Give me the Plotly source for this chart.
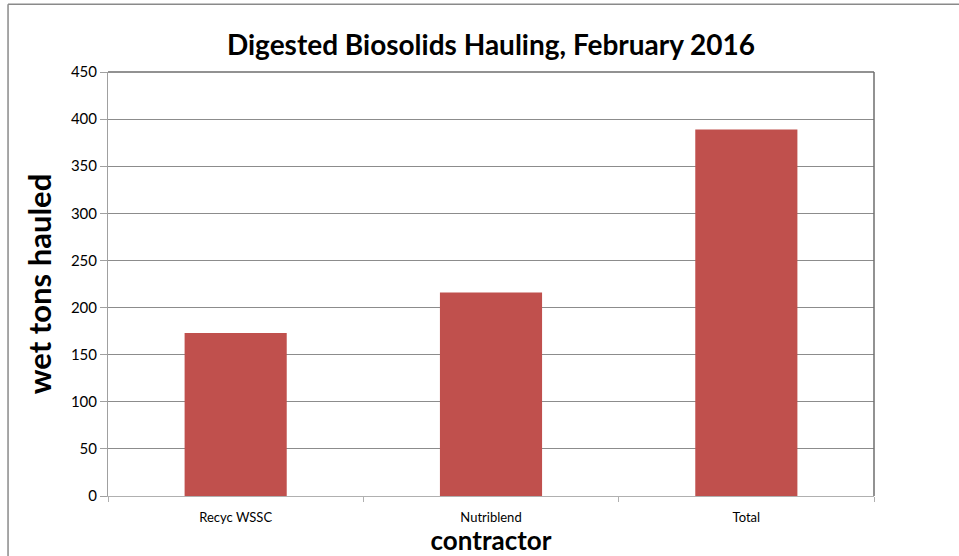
import plotly.graph_objects as go

# datos
contratistas = ["Recyc WSSC", "Nutriblend", "Total"]
toneladas = [173, 216, 389]
marcas_y = [0, 50, 100, 150, 200, 250, 300, 350, 400, 450]

FUENTE = "Lato, 'Open Sans', sans-serif"
ROJO = "#C0504D"

fig = go.Figure(go.Bar(
    x=contratistas,
    y=toneladas,
    marker_color=ROJO,
    marker_line_width=0,
    width=0.4,
))

fig.update_layout(
    width=959,
    height=556,
    title=dict(
        text="<b>Digested Biosolids Hauling, February 2016</b>",
        x=0.5, xanchor="center", xref="paper",
        y=0.919, yanchor="middle",
        font=dict(family=FUENTE, size=28, color="#000000"),
    ),
    plot_bgcolor="white",
    paper_bgcolor="white",
    showlegend=False,
    margin=dict(l=108, r=85, t=72, b=60),
    xaxis=dict(
        title=dict(text="<b>contractor</b>", font=dict(family=FUENTE, size=26, color="#000000"), standoff=0),
        tickfont=dict(family=FUENTE, size=13, color="#000000"),
        ticklabelstandoff=9,
        showline=True, linecolor="#b0b0b0", linewidth=1,
        ticks="outside", tickson="boundaries", ticklen=5, tickcolor="#b0b0b0",
        showgrid=False,
    ),
    yaxis=dict(
        title=dict(text="<b>wet tons hauled</b>", font=dict(family=FUENTE, size=31, color="#000000"), standoff=10),
        tickfont=dict(family=FUENTE, size=15, color="#000000"),
        range=[0, 450],
        tickvals=marcas_y,
        showline=True, linecolor="#a0a0a0", linewidth=1,
        ticks="outside", ticklen=7, tickcolor="#a0a0a0",
        showgrid=True, gridcolor="#8c8c8c", gridwidth=1,
        zeroline=False,
    ),
    shapes=[
        # borde del área del gráfico (arriba y derecha)
        dict(type="line", xref="paper", yref="paper", x0=0, x1=1, y0=1, y1=1,
             line=dict(color="#6e6e6e", width=1.5)),
        dict(type="line", xref="paper", yref="paper", x0=1, x1=1, y0=0, y1=1,
             line=dict(color="#6e6e6e", width=1.5)),
        # borde exterior de la imagen
        dict(type="line", xref="paper", yref="paper", x0=-0.1305, x1=1.12, y0=1.160, y1=1.160,
             line=dict(color="#8a8a8a", width=1.5)),
        dict(type="line", xref="paper", yref="paper", x0=-0.1305, x1=-0.1305, y0=-0.15, y1=1.160,
             line=dict(color="#8a8a8a", width=1.5)),
    ],
)

# quitar el margen del body para que la figura empiece en (0, 0)
fig.write_html("out.html", config={"displayModeBar": False},
               post_script="document.body.style.margin='0';")
